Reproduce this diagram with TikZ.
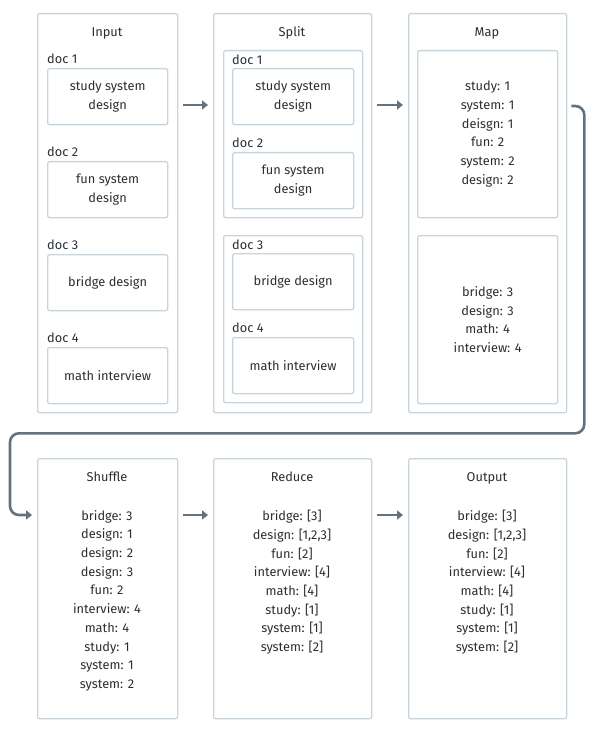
\documentclass[tikz,border=0pt]{standalone}
\usepackage{fontspec}
\setmainfont{Fira Sans}
\usetikzlibrary{arrows.meta,calc}
\definecolor{edgegray}{HTML}{C8D4DC}
\definecolor{flowgray}{HTML}{62737F}
\definecolor{inkgray}{HTML}{2A2F33}
\newcommand\mrfont{\fontsize{12.8}{18.7}\selectfont}
\tikzset{
  stage/.style   = {shape=rectangle, draw=edgegray, line width=1.3pt,
          rounded corners=2pt, anchor=north west, inner sep=0pt},
  docbox/.style  = {stage, align=center, text=inkgray, font=\mrfont},
  heading/.style = {anchor=base, inner sep=0pt, text=inkgray, font=\mrfont},
  doclabel/.style= {anchor=base west, inner sep=0pt, text=inkgray, font=\mrfont},
  pairs/.style   = {anchor=north, align=center, inner sep=0pt, text=inkgray, font=\mrfont},
  flow/.style    = {draw=flowgray, line width=2.6pt,
          -{Triangle[length=6pt,width=9pt]}}
}
\begin{document}
\begin{tikzpicture}
  [
    x = 1pt,
    y = -1pt
  ]
  \useasboundingbox (0,0) rectangle (595,730);

  % top row
  \node [stage, minimum width=140pt, minimum height=399pt] (input) at (37,13) {};
  \node [stage, minimum width=158pt, minimum height=399pt] (split) at (213,13) {};
  \node [stage, minimum width=158pt, minimum height=399pt] (map)   at (408,13) {};
  \node [heading] at (107,36.5) {Input};
  \node [heading] at (292,36.5) {Split};
  \node [heading] at (487,36.5) {Map};

  % input docs
  \node [doclabel] at (47,63.5)  {doc 1};
  \node [docbox, minimum width=120pt, minimum height=56pt] (in1) at (47,68)  {study system\\design};
  \node [doclabel] at (47,156.5) {doc 2};
  \node [docbox, minimum width=120pt, minimum height=56pt] (in2) at (47,161) {fun system\\design};
  \node [doclabel] at (47,249.5) {doc 3};
  \node [docbox, minimum width=120pt, minimum height=56pt] (in3) at (47,254) {bridge design};
  \node [doclabel] at (47,342.5) {doc 4};
  \node [docbox, minimum width=120pt, minimum height=56pt] (in4) at (47,347) {math interview};

  % split groups
  \node [stage, minimum width=139pt, minimum height=167pt] (sg1) at (223,50)  {};
  \node [stage, minimum width=139pt, minimum height=167pt] (sg2) at (223,235) {};
  \node [doclabel] at (232,64.5)  {doc 1};
  \node [docbox, minimum width=121pt, minimum height=56pt] (sp1) at (232,68)  {study system\\design};
  \node [doclabel] at (232,147.5) {doc 2};
  \node [docbox, minimum width=121pt, minimum height=56pt] (sp2) at (232,152) {fun system\\design};
  \node [doclabel] at (232,249.5) {doc 3};
  \node [docbox, minimum width=121pt, minimum height=56pt] (sp3) at (232,253) {bridge design};
  \node [doclabel] at (232,332.5) {doc 4};
  \node [docbox, minimum width=121pt, minimum height=56pt] (sp4) at (232,337) {math interview};

  % map outputs
  \node [docbox, minimum width=140pt, minimum height=167pt] (mp1) at (417,50)
    {study: 1\\system: 1\\deisgn: 1\\fun: 2\\system: 2\\design: 2};
  \node [docbox, minimum width=140pt, minimum height=168pt] (mp2) at (417,235)
    {bridge: 3\\design: 3\\math: 4\\interview: 4};

  % bottom row
  \node [stage, minimum width=140pt, minimum height=260pt] (shuffle) at (37,458)  {};
  \node [stage, minimum width=158pt, minimum height=260pt] (reduce)  at (213,458) {};
  \node [stage, minimum width=158pt, minimum height=260pt] (output)  at (408,458) {};
  \node [heading] at (107,481.5) {Shuffle};
  \node [heading] at (292,481.5) {Reduce};
  \node [heading] at (487,481.5) {Output};
  \node [pairs] at (107,510) {bridge: 3\\design: 1\\design: 2\\design: 3\\fun: 2\\interview: 4\\math: 4\\study: 1\\system: 1\\system: 2};
  \node [pairs] at (292,510) {bridge: [3]\\design: [1,2,3]\\fun: [2]\\interview: [4]\\math: [4]\\study: [1]\\system: [1]\\system: [2]};
  \node [pairs] at (487,510) {bridge: [3]\\design: [1,2,3]\\fun: [2]\\interview: [4]\\math: [4]\\study: [1]\\system: [1]\\system: [2]};

  % arrows
  \draw [flow] ([shift={(5pt,-92pt)}]input.north east) -- ([shift={(-5pt,-92pt)}]split.north west);
  \draw [flow] ([shift={(5pt,-92pt)}]split.north east) -- ([shift={(-5pt,-92pt)}]map.north west);
  \draw [flow] ([shift={(5pt,-57pt)}]shuffle.north east) -- ([shift={(-5pt,-57pt)}]reduce.north west);
  \draw [flow] ([shift={(5pt,-57pt)}]reduce.north east) -- ([shift={(-5pt,-57pt)}]output.north west);
  \coordinate (turn) at ([shift={(17pt,-20pt)}]map.south east);
  \coordinate (back) at ([xshift=-27pt]shuffle.north west);
  \draw [flow, rounded corners=9pt] ([shift={(4pt,-93pt)}]map.north east) -| (turn)
    -| ([yshift=-57pt]back) -- ([shift={(-5pt,-57pt)}]shuffle.north west);
\end{tikzpicture}
\end{document}
